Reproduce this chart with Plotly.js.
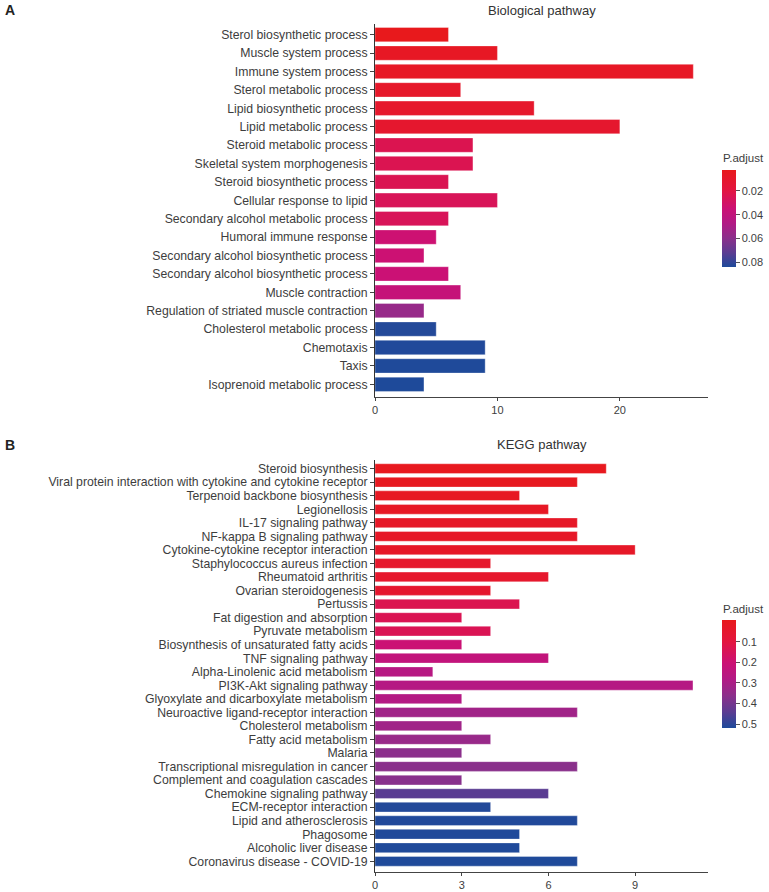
<!DOCTYPE html>
<html>
<head>
<meta charset="utf-8">
<script src="https://cdn.plot.ly/plotly-3.0.1.min.js"></script>
<style>html,body{margin:0;padding:0;background:#fff;}#chart{width:769px;height:892px;}</style>
</head>
<body>
<div id="chart"></div>
<script>
// ---- Data: Biological pathway (panel A) ----
var bpTerms = [
  "Sterol biosynthetic process",
  "Muscle system process",
  "Immune system process",
  "Sterol metabolic process",
  "Lipid biosynthetic process",
  "Lipid metabolic process",
  "Steroid metabolic process",
  "Skeletal system morphogenesis",
  "Steroid biosynthetic process",
  "Cellular response to lipid",
  "Secondary alcohol metabolic process",
  "Humoral immune response",
  "Secondary alcohol biosynthetic process",
  "Secondary alcohol biosynthetic process",
  "Muscle contraction",
  "Regulation of striated muscle contraction",
  "Cholesterol metabolic process",
  "Chemotaxis",
  "Taxis",
  "Isoprenoid metabolic process"
];
var bpCounts = [6, 10, 26, 7, 13, 20, 8, 8, 6, 10, 6, 5, 4, 6, 7, 4, 5, 9, 9, 4];
var bpPadj = [0.0025, 0.0060, 0.0072, 0.0088, 0.0098, 0.0106, 0.0240, 0.0243, 0.0246, 0.0262,
              0.0265, 0.0340, 0.0345, 0.0350, 0.0380, 0.0560, 0.0830, 0.0835, 0.0838, 0.0840];
var bpPadjTicks = [0.02, 0.04, 0.06, 0.08];
var bpXTicks = [0, 10, 20];

// ---- Data: KEGG pathway (panel B) ----
var keggTerms = [
  "Steroid biosynthesis",
  "Viral protein interaction with cytokine and cytokine receptor",
  "Terpenoid backbone biosynthesis",
  "Legionellosis",
  "IL-17 signaling pathway",
  "NF-kappa B signaling pathway",
  "Cytokine-cytokine receptor interaction",
  "Staphylococcus aureus infection",
  "Rheumatoid arthritis",
  "Ovarian steroidogenesis",
  "Pertussis",
  "Fat digestion and absorption",
  "Pyruvate metabolism",
  "Biosynthesis of unsaturated fatty acids",
  "TNF signaling pathway",
  "Alpha-Linolenic acid metabolism",
  "PI3K-Akt signaling pathway",
  "Glyoxylate and dicarboxylate metabolism",
  "Neuroactive ligand-receptor interaction",
  "Cholesterol metabolism",
  "Fatty acid metabolism",
  "Malaria",
  "Transcriptional misregulation in cancer",
  "Complement and coagulation cascades",
  "Chemokine signaling pathway",
  "ECM-receptor interaction",
  "Lipid and atherosclerosis",
  "Phagosome",
  "Alcoholic liver disease",
  "Coronavirus disease - COVID-19"
];
var keggCounts = [8, 7, 5, 6, 7, 7, 9, 4, 6, 4, 5, 3, 4, 3, 6, 2, 11, 3, 7, 3, 4, 3, 7, 3, 6, 4, 7, 5, 5, 7];
var keggPadj = [0.002, 0.005, 0.010, 0.020, 0.025, 0.026, 0.028, 0.040, 0.042, 0.045,
                0.130, 0.135, 0.138, 0.200, 0.230, 0.265, 0.270, 0.275, 0.315, 0.318,
                0.335, 0.360, 0.362, 0.366, 0.440, 0.510, 0.512, 0.513, 0.514, 0.515];
var keggPadjTicks = [0.1, 0.2, 0.3, 0.4, 0.5];
var keggXTicks = [0, 3, 6, 9];

// ---- Styling ----
var FONT = "Liberation Sans, Arial, Helvetica, sans-serif";
var TXT = "#3d3d3d";
var AX = "#444444";
// position 0 = largest p (blue), 1 = smallest p (red); values are negated so red sits on top
var cscale = [
  [0.00, "#1E4A9A"], [0.15, "#5C3C92"], [0.30, "#8C2F8B"], [0.45, "#B21A85"],
  [0.60, "#CB1175"], [0.80, "#E3163F"], [1.00, "#E8191C"]
];
function neg(a){ return a.map(function(v){ return -v; }); }
function idx(a){ return a.map(function(_, i){ return i; }); }
function fmt(a){ return a.map(function(v){ return String(v); }); }

var W = 769, H = 892;
function px(x){ return x / W; }
function py(y){ return 1 - y / H; }

var trA = {
  type: "bar", orientation: "h",
  x: bpCounts, y: idx(bpTerms), width: 0.78,
  xaxis: "x", yaxis: "y",
  textposition: "none",
  marker: {
    color: neg(bpPadj), colorscale: cscale, cmin: -0.084, cmax: -0.0024,
    line: {width: 0.6, color: "rgba(255,255,255,0.55)"},
    showscale: true,
    colorbar: {
      x: px(722), xanchor: "left", y: py(218.5), yanchor: "middle",
      len: 97, lenmode: "pixels", thickness: 14, thicknessmode: "pixels",
      outlinewidth: 0, xpad: 0, ypad: 0,
      tickvals: neg(bpPadjTicks), ticktext: fmt(bpPadjTicks),
      ticks: "outside", ticklen: 4, tickcolor: "#555", tickwidth: 1,
      tickfont: {family: FONT, size: 11, color: TXT}
    }
  },
  hovertext: bpTerms, hoverinfo: "x+text"
};

var trB = {
  type: "bar", orientation: "h",
  x: keggCounts, y: idx(keggTerms), width: 0.72,
  xaxis: "x2", yaxis: "y2",
  textposition: "none",
  marker: {
    color: neg(keggPadj), colorscale: cscale, cmin: -0.516, cmax: 0.008,
    line: {width: 0.6, color: "rgba(255,255,255,0.55)"},
    showscale: true,
    colorbar: {
      x: px(722), xanchor: "left", y: py(673.5), yanchor: "middle",
      len: 108.4, lenmode: "pixels", thickness: 14, thicknessmode: "pixels",
      outlinewidth: 0, xpad: 0, ypad: 0,
      tickvals: neg(keggPadjTicks), ticktext: fmt(keggPadjTicks),
      ticks: "outside", ticklen: 4, tickcolor: "#555", tickwidth: 1,
      tickfont: {family: FONT, size: 11, color: TXT}
    }
  },
  hovertext: keggTerms, hoverinfo: "x+text"
};

function xAxis(domain, range, ticks, anchor){
  return {
    domain: domain, range: range, anchor: anchor,
    tickmode: "array", tickvals: ticks, ticktext: fmt(ticks),
    showgrid: false, zeroline: false,
    showline: true, linecolor: AX, linewidth: 1,
    ticks: "outside", ticklen: 3, tickcolor: AX, tickwidth: 1,
    tickfont: {family: FONT, size: 11, color: TXT},
    fixedrange: true
  };
}
function yAxis(domain, range, terms, anchor){
  return {
    domain: domain, range: range, anchor: anchor,
    tickmode: "array", tickvals: idx(terms), ticktext: terms,
    showgrid: false, zeroline: false,
    showline: true, linecolor: "#333", linewidth: 1,
    ticks: "outside", ticklen: 4, tickcolor: AX, tickwidth: 1,
    tickfont: {family: FONT, size: 12.25, color: TXT},
    fixedrange: true
  };
}

var xDom = [px(375), px(708)];
var layout = {
  width: W, height: H,
  margin: {l: 0, r: 0, t: 0, b: 0},
  paper_bgcolor: "#fff", plot_bgcolor: "#fff",
  showlegend: false,
  font: {family: FONT, color: TXT},
  xaxis: xAxis(xDom, [0, 27.2], bpXTicks, "y"),
  yaxis: yAxis([py(397), py(24)], [19.69, -0.58], bpTerms, "x"),
  xaxis2: xAxis(xDom, [0, 11.52], keggXTicks, "y2"),
  yaxis2: yAxis([py(872), py(460)], [29.79, -0.64], keggTerms, "x2"),
  annotations: [
    {text: "<b>A</b>", xref: "paper", yref: "paper", x: px(3), y: py(10), xanchor: "left", yanchor: "middle",
     showarrow: false, font: {family: FONT, size: 14, color: "#222"}},
    {text: "Biological pathway", xref: "paper", yref: "paper", x: px(541.5), y: py(10), xanchor: "center", yanchor: "middle",
     showarrow: false, font: {family: FONT, size: 13, color: "#333"}},
    {text: "<b>B</b>", xref: "paper", yref: "paper", x: px(3), y: py(445), xanchor: "left", yanchor: "middle",
     showarrow: false, font: {family: FONT, size: 14, color: "#222"}},
    {text: "KEGG pathway", xref: "paper", yref: "paper", x: px(541.5), y: py(445), xanchor: "center", yanchor: "middle",
     showarrow: false, font: {family: FONT, size: 13, color: "#333"}},
    {text: "P.adjust", xref: "paper", yref: "paper", x: px(721), y: py(158), xanchor: "left", yanchor: "middle",
     showarrow: false, font: {family: FONT, size: 11.5, color: TXT}},
    {text: "P.adjust", xref: "paper", yref: "paper", x: px(721), y: py(609), xanchor: "left", yanchor: "middle",
     showarrow: false, font: {family: FONT, size: 11.5, color: TXT}}
  ]
};

Plotly.newPlot("chart", [trA, trB], layout, {displayModeBar: false, staticPlot: true});
</script>
</body>
</html>
